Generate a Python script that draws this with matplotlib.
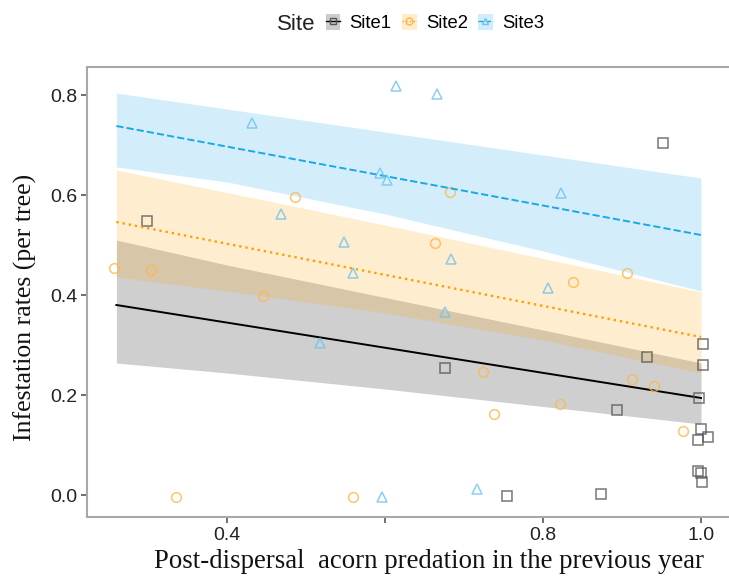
import numpy as np
import matplotlib.pyplot as plt
from matplotlib.patches import Patch
from matplotlib.lines import Line2D

# observed infestation rates per site
site1_x = [0.299, 0.952, 0.676, 0.894, 0.932, 1.003, 1.002, 0.997, 1.000, 1.009, 0.996,
           0.996, 1.000, 1.001, 0.754, 0.873]
site1_y = [0.548, 0.704, 0.254, 0.170, 0.276, 0.302, 0.260, 0.194, 0.132, 0.116, 0.110,
           0.048, 0.044, 0.026, -0.002, 0.002]
site2_x = [0.257, 0.304, 0.446, 0.486, 0.682, 0.663, 0.838, 0.906, 0.724, 0.738, 0.822,
           0.913, 0.940, 0.977, 0.335, 0.560]
site2_y = [0.454, 0.450, 0.398, 0.596, 0.606, 0.504, 0.426, 0.444, 0.246, 0.162, 0.182,
           0.232, 0.218, 0.128, -0.004, -0.004]
site3_x = [0.432, 0.614, 0.666, 0.594, 0.603, 0.823, 0.468, 0.548, 0.560, 0.684, 0.806,
           0.676, 0.518, 0.596, 0.716]
site3_y = [0.744, 0.818, 0.802, 0.644, 0.630, 0.604, 0.562, 0.506, 0.444, 0.472, 0.414,
           0.366, 0.304, -0.004, 0.012]

# fitted lines (end points of the predicted range)
fit_x = [0.26, 1.0]
fit1 = [0.380, 0.194]
fit2 = [0.546, 0.316]
fit3 = [0.738, 0.520]

# confidence bands
band_x = [0.26, 0.4, 0.6, 0.8, 1.0]
lo1 = [0.264, 0.244, 0.212, 0.177, 0.142]
hi1 = [0.510, 0.460, 0.395, 0.330, 0.264]
lo2 = [0.436, 0.408, 0.364, 0.310, 0.244]
hi2 = [0.650, 0.605, 0.540, 0.473, 0.406]
lo3 = [0.656, 0.626, 0.562, 0.488, 0.408]
hi3 = [0.804, 0.772, 0.726, 0.680, 0.634]

sites = ["Site1", "Site2", "Site3"]
colors = ["black", "#ffa000", "#1aa9e6"]
pt_colors = ["#555555", "#ffb74a", "#6cc4ef"]
markers = ["s", "o", "^"]
styles = ["-", ":", "--"]
widths = [1.4, 1.7, 1.4]

fig = plt.figure(figsize=(7.29, 5.76), dpi=100)
ax = fig.add_axes([87 / 729, 1 - 517 / 576, 1 - 87 / 729, (517 - 67) / 576])

series = [(site1_x, site1_y, fit1, lo1, hi1),
          (site2_x, site2_y, fit2, lo2, hi2),
          (site3_x, site3_y, fit3, lo3, hi3)]

for i, (xs, ys, fit, lo, hi) in enumerate(series):
    ax.fill_between(band_x, lo, hi, color=colors[i], alpha=0.19, lw=0)
    ax.plot(fit_x, fit, color=colors[i], ls=styles[i], lw=widths[i])
    ax.plot(xs, ys, ls="none", marker=markers[i], ms=7, mfc="none",
            mec=pt_colors[i], mew=1.1, alpha=0.8)

ax.set_xlim(0.2228, 1.0354)
ax.set_ylim(-0.044, 0.856)
ax.set_xticks([0.4, 0.6, 0.8, 1.0])
ax.set_xticklabels(["0.4", "", "0.8", "1.0"])
ax.set_yticks([0.0, 0.2, 0.4, 0.6, 0.8])
ax.tick_params(labelsize=14, length=4, width=1.2, color="#555555",
               labelcolor="#222222", pad=3,
               labelfontfamily="Liberation Sans")
for side in ["left", "bottom", "top"]:
    ax.spines[side].set_color("#a8a8a8")
    ax.spines[side].set_linewidth(1.5)
ax.spines["right"].set_visible(False)

fig.text(25 / 729, 1 - 307 / 576, "Infestation rates (per tree)", rotation=90,
         ha="center", va="center", fontsize=18.5, family="Liberation Serif",
         color="#111111")
fig.text(429 / 729, 1 - 562 / 576, "Post-dispersal  acorn predation in the previous year",
         ha="center", va="center", fontsize=19.3, family="Liberation Serif",
         color="#111111")

# legend across the top
fig.text(296 / 729, 1 - 24 / 576, "Site", ha="center", va="center",
         fontsize=16, family="Liberation Sans", color="#222222")
handles = []
for i in range(3):
    handles.append((Patch(facecolor=colors[i], alpha=0.2, lw=0),
                    Line2D([], [], color=colors[i], ls=styles[i], lw=1.0,
                           marker=markers[i], ms=5, mfc="none",
                           mec=pt_colors[i], mew=1.0)))
fig.legend(handles, sites, loc="center left", bbox_to_anchor=(309 / 729, 1 - 23 / 576),
           ncol=3, frameon=False, handlelength=0.8, handleheight=1.0,
           handletextpad=0.5, columnspacing=0.55,
           prop={"family": "Liberation Sans", "size": 13.3})

fig.savefig("out.png", dpi=100)
